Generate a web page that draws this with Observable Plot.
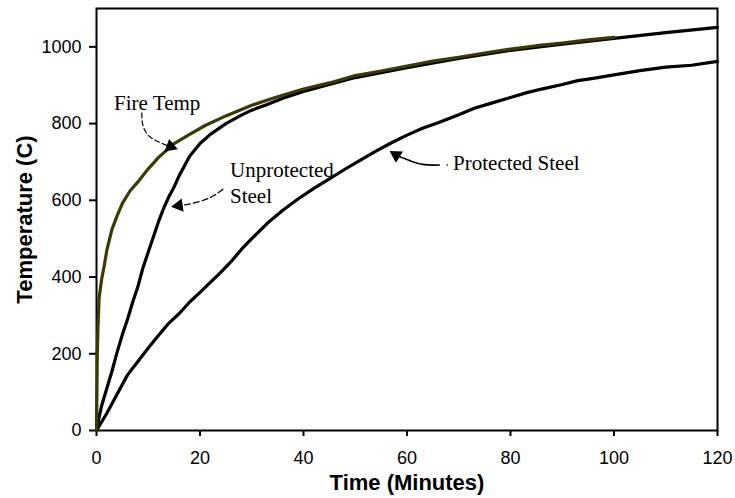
<!DOCTYPE html>
<html>
<head>
<meta charset="utf-8">
<script src="https://cdn.jsdelivr.net/npm/d3@7"></script>
<script src="https://cdn.jsdelivr.net/npm/@observablehq/plot@0.6"></script>
<style>
  html, body { margin: 0; padding: 0; background: white; }
</style>
</head>
<body>
<div id="chart"></div>
<script>
// ---- Data ----
const fireTime = [0, 0.15, 0.3, 0.5, 1, 1.5, 2, 3, 4, 5, 6.5, 8, 10, 12, 15, 18, 21, 25, 30, 35, 40, 45, 50, 55, 60, 65, 70, 75, 80, 85, 90, 95, 100];
const fireTemp = [0, 200, 275, 345, 395, 430, 470, 525, 560, 592, 625, 648, 682, 712, 748, 772, 795, 820, 848, 870, 890, 906, 925, 937, 950, 963, 973, 984, 994, 1003, 1010, 1018, 1025];

const unprotTime = [0, 0.5, 1, 2, 3, 4, 5, 6, 7, 8, 9, 10, 11, 12, 13, 14, 15, 16, 18, 20, 22, 25, 28, 30, 33, 36, 40, 45, 50, 55, 60, 70, 80, 90, 100, 110, 120];
const unprotTemp = [0, 35, 65, 110, 155, 205, 250, 290, 335, 375, 425, 465, 505, 545, 580, 610, 635, 665, 715, 748, 772, 800, 822, 835, 850, 866, 884, 902, 920, 933, 946, 970, 991, 1007, 1022, 1037, 1051];

const protTime = [0, 2, 4, 6, 8, 10, 12, 14, 16, 18, 20, 22, 24, 26, 28, 30, 33, 36, 39, 42, 45, 48, 51, 54, 57, 60, 63, 66, 70, 73, 76, 80, 83, 86, 90, 93, 96, 100, 105, 110, 115, 120];
const protTemp = [0, 45, 95, 145, 180, 215, 248, 280, 305, 335, 360, 386, 412, 440, 472, 500, 540, 574, 604, 631, 656, 681, 705, 728, 750, 770, 788, 802, 823, 840, 852, 868, 880, 890, 902, 912, 918, 927, 938, 947, 952, 962];

const xTicks = [0, 20, 40, 60, 80, 100, 120];
const yTicks = [0, 200, 400, 600, 800, 1000];

// Annotation labels (data coordinates)
const labelText = ["Fire Temp", "Unprotected", "Steel", "Protected Steel"];
const labelX = [3.4, 25.8, 25.8, 68.9];
const labelY = [854, 678, 610, 696];

// Annotation arrow paths (data coordinates)
const fireArrowT = [8.77, 8.96, 10.12, 12.06, 13.6];
const fireArrowV = [828, 796, 768, 752, 743];
const unprotArrowT = [24.44, 22.5, 20.19, 17.86, 16.3];
const unprotArrowV = [629, 611, 598, 590, 587];
const protArrowT = [66.25, 63.3, 60.8, 59.3, 58.4];
const protArrowV = [692, 693, 702, 710, 715];
const headT = [14.3, 15.9, 57.9];
const headV = [740, 586, 718];
const headAngle = [110, 262, 302];

// ---- Build tables ----
const zip = (xs, ys) => xs.map((x, i) => ({x, y: ys[i]}));
const fire = zip(fireTime, fireTemp);
const unprot = zip(unprotTime, unprotTemp);
const prot = zip(protTime, protTemp);
const labels = labelText.map((t, i) => ({t, x: labelX[i], y: labelY[i]}));
const heads = headT.map((x, i) => ({x, y: headV[i], a: headAngle[i]}));

const serif = "'Liberation Serif', 'Times New Roman', serif";

const chart = Plot.plot({
  width: 735,
  height: 498,
  marginLeft: 96,
  marginRight: 18,
  marginTop: 8,
  marginBottom: 68,
  x: {domain: [0, 120]},
  y: {domain: [0, 1100]},
  style: {fontFamily: "'Liberation Sans', Arial, sans-serif", fontSize: "18px", color: "black", background: "white"},
  marks: [
    Plot.frame({stroke: "black", strokeWidth: 2}),
    Plot.axisX({ticks: xTicks, tickSize: 6, tickPadding: 15, strokeWidth: 2, label: null, tickFormat: d => String(d)}),
    Plot.axisY({ticks: yTicks, tickSize: 7, tickPadding: 8, strokeWidth: 2, label: null, tickFormat: d => String(d)}),
    Plot.line(prot, {x: "x", y: "y", stroke: "black", strokeWidth: 3.2}),
    Plot.line(unprot, {x: "x", y: "y", stroke: "black", strokeWidth: 3.2}),
    Plot.line(fire, {x: "x", y: "y", stroke: "#3b3a00", strokeWidth: 3.2}),
    // annotation arrows
    Plot.line(zip(fireArrowT, fireArrowV), {x: "x", y: "y", curve: "natural", stroke: "black", strokeWidth: 1.2, strokeDasharray: "5,3"}),
    Plot.line(zip(unprotArrowT, unprotArrowV), {x: "x", y: "y", curve: "natural", stroke: "black", strokeWidth: 1.2, strokeDasharray: "6,3"}),
    Plot.line(zip(protArrowT, protArrowV), {x: "x", y: "y", curve: "natural", stroke: "black", strokeWidth: 1.6}),
    Plot.dot(heads, {x: "x", y: "y", symbol: "triangle", r: 5, fill: "black", stroke: "none", rotate: "a"}),
    Plot.dot([{x: 67.8, y: 692}], {x: "x", y: "y", r: 0.8, fill: "black"}),
    Plot.text(labels, {x: "x", y: "y", text: "t", textAnchor: "start", fontFamily: serif, fontSize: 21, fill: "black"}),
    // axis titles
    Plot.text(["Time (Minutes)"], {frameAnchor: "bottom", dy: 52, lineAnchor: "middle", textAnchor: "middle", text: d => d, fontWeight: "bold", fontSize: 22, fill: "black"}),
    Plot.text(["Temperature (C)"], {frameAnchor: "left", dx: -72, rotate: -90, lineAnchor: "middle", textAnchor: "middle", text: d => d, fontWeight: "bold", fontSize: 22, fill: "black"})
  ]
});
document.getElementById("chart").appendChild(chart);
</script>
</body>
</html>
